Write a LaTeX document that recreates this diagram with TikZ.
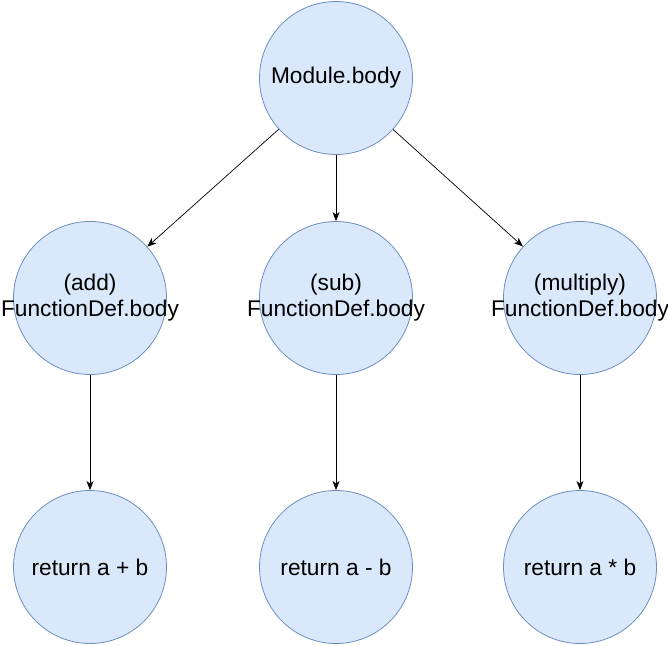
\documentclass[tikz,border=0pt]{standalone}
\usepackage{fontspec}
\setmainfont{Liberation Sans}
\usepackage{xcolor}
\usetikzlibrary{arrows.meta}
\definecolor{treefill}{HTML}{DAE8FC}
\definecolor{treeline}{HTML}{6C8EBF}

\begin{document}
\begin{tikzpicture}[x=1pt, y=-1pt,
  tree/.style={circle, draw=treeline, fill=treefill, minimum size=153pt,
               inner sep=0pt, line width=0.8pt},
  arrow/.style={-{Stealth[length=9pt, width=7pt, inset=2.5pt]}, line width=0.7pt},
  every label/.style={font=\fontsize{22.7}{26}\selectfont, align=center, inner sep=0pt},
]
\useasboundingbox (0,0) rectangle (668,645);

% Racine
\node[tree, label={center:{Module.body}}] (mod) at (336,78) {};

% Fonctions
\node[tree, label={center:{(add)\\FunctionDef.body}}]      (add) at (90,298)  {};
\node[tree, label={center:{(sub)\\FunctionDef.body}}]      (sub) at (336,298) {};
\node[tree, label={center:{(multiply)\\FunctionDef.body}}] (mul) at (580,298) {};

% Retours
\node[tree, label={center:{return a + b}}] (radd) at (90,567)  {};
\node[tree, label={center:{return a - b}}] (rsub) at (336,567) {};
\node[tree, label={center:{return a * b}}] (rmul) at (580,567) {};

% Flèches
\draw[arrow] (mod) -- (add);
\draw[arrow] (mod) -- (sub);
\draw[arrow] (mod) -- (mul);
\draw[arrow] (add) -- (radd);
\draw[arrow] (sub) -- (rsub);
\draw[arrow] (mul) -- (rmul);

\end{tikzpicture}
\end{document}
